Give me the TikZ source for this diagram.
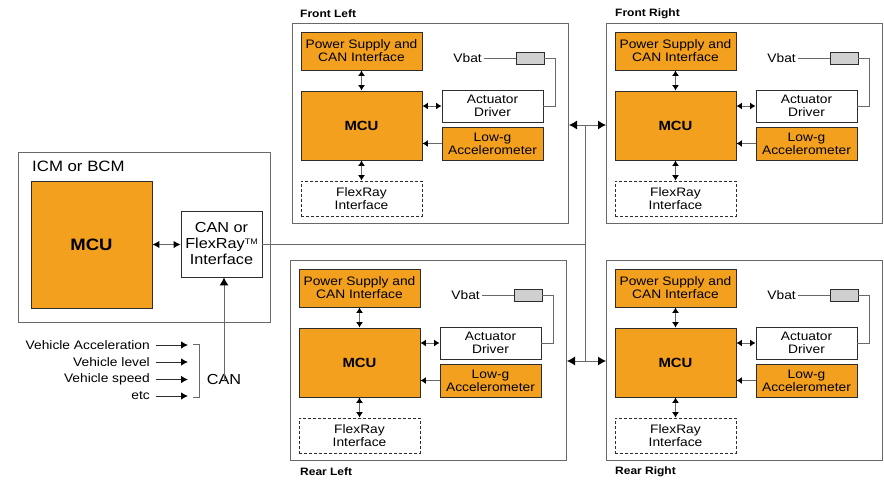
\documentclass[tikz,border=0pt]{standalone}
\usepackage{fontspec}
\setmainfont{Liberation Sans}[FakeStretch=1.12]
\usetikzlibrary{arrows.meta}
\definecolor{orng}{RGB}{243,160,30}
\definecolor{fuse}{RGB}{208,208,208}
\definecolor{ln}{RGB}{45,45,45}
\definecolor{frame}{RGB}{105,105,105}
\newcommand\bxf{\fontsize{12.3}{13}\selectfont}
\newcommand\mcuf{\fontsize{13.3}{14}\selectfont\bfseries}
\newcommand\lblf{\fontsize{10.7}{12}\selectfont\bfseries}
\tikzset{
  frm/.style={draw=frame, line width=1pt, inner sep=0pt, fill=white},
  obox/.style={draw=ln, fill=orng, line width=0.9pt, inner sep=0pt, align=center, font=\bxf},
  wbox/.style={draw=ln, fill=white, line width=0.9pt, inner sep=0pt, align=center, font=\bxf},
  dbox/.style={draw=ln, line width=0.8pt, dash pattern=on 3pt off 2pt, inner sep=0pt, align=center, font=\bxf},
  gbox/.style={draw=ln, fill=fuse, line width=0.9pt, inner sep=0pt},
  txt/.style={inner sep=2pt, font=\bxf},
  wire/.style={draw=frame, line width=1pt},
  sarr/.style={draw=frame, line width=1pt, -{Latex[length=5.5pt,width=7pt,color=black]}},
  darr/.style={draw=frame, line width=1pt, {Latex[length=5.5pt,width=7pt,color=black]}-{Latex[length=5.5pt,width=7pt,color=black]}},
  carr/.style={draw=frame, line width=1pt, {Latex[length=7pt,width=7.5pt,color=black]}-{Latex[length=7pt,width=7.5pt,color=black]}},
  barr/.style={draw=frame, line width=1pt, -{Latex[length=8pt,width=9pt,color=black]}},
  iarr/.style={draw=ln, line width=1pt, -{Latex[length=7pt,width=7.5pt,color=black]}},
}
\newcommand\wheelmod[3]{%
\begin{scope}[shift={(#1,#2)}]
  \node[frm, minimum width=276pt, minimum height=200pt, anchor=north west] (#3) at (0,0) {};
  \node[obox, minimum width=121pt, minimum height=38pt] (#3ps) at (69.5,28) {Power Supply and\\CAN Interface};
  \node[obox, minimum width=121pt, minimum height=69pt, font=\mcuf] (#3mcu) at (69.5,102.5) {MCU};
  \node[dbox, minimum width=121pt, minimum height=35pt] (#3fx) at (69.5,175.5) {FlexRay\\Interface};
  \node[wbox, minimum width=101pt, minimum height=32pt] (#3act) at (200.5,83) {Actuator\\Driver};
  \node[obox, minimum width=101pt, minimum height=33pt] (#3lg) at (200.5,120.5) {Low-g\\Accelerometer};
  \node[txt, anchor=east] (#3vb) at (192,35) {Vbat};
  \node[gbox, minimum width=28pt, minimum height=12pt] (#3fu) at (238,35) {};
  \draw[wire] (#3vb.east) -- (#3fu.west);
  \draw[wire] (#3fu.east) -- ++(11,0) |- (#3act.east);
  \draw[darr] (#3ps.south) -- (#3ps.south |- #3mcu.north);
  \draw[darr] (#3mcu.south) -- (#3mcu.south |- #3fx.north);
  \draw[darr] (#3act.west) -- (#3act.west -| #3mcu.east);
  \draw[sarr] (#3lg.west) -- (#3lg.west -| #3mcu.east);
\end{scope}}
\begin{document}
\begin{tikzpicture}[x=1pt, y=-1pt]
\useasboundingbox[fill=white] (0,0) rectangle (884,482);
% wheel modules
\wheelmod{292}{23}{fl}
\wheelmod{606}{23}{fr}
\wheelmod{290}{260}{rl}
\wheelmod{606}{260}{rr}
\node[anchor=west, inner sep=0pt, font=\lblf] (tfl) at (300,14) {Front Left};
\node[anchor=west, inner sep=0pt, font=\lblf] (tfr) at (615,14) {Front Right};
\node[anchor=west, inner sep=0pt, font=\lblf] (trl) at (300,472) {Rear Left};
\node[anchor=west, inner sep=0pt, font=\lblf] (trr) at (615,472) {Rear Right};
% ICM / BCM
\node[frm, minimum width=252pt, minimum height=170pt, anchor=north west] (icm) at (18,152) {};
\node[anchor=west, inner sep=0pt, font=\fontsize{15}{16}\selectfont] (icmt) at (32,166.5) {ICM or BCM};
\node[obox, minimum width=121pt, minimum height=127pt, font=\fontsize{16.5}{18}\selectfont\bfseries] (cmcu) at (91.5,244.5) {MCU};
\node[wbox, minimum width=81pt, minimum height=66pt, font=\fontsize{14.5}{16}\selectfont] (iface) at (221.5,244) {CAN or\\FlexRay\raisebox{0.55ex}{\fontsize{8}{8}\selectfont TM}\\Interface};
\draw[carr] (cmcu.east) -- (cmcu.east -| iface.west);
% bus
\coordinate (bt) at (585.5,125);
\coordinate (bb) at (585.5,361);
\draw[wire] (bt) -- (bb);
\draw[wire] (iface.east) -- (iface.east -| bt);
\draw[barr] (bt) -- (bt -| fl.east);
\draw[barr] (bt) -- (bt -| fr.west);
\draw[barr] (bb) -- (bb -| rl.east);
\draw[barr] (bb) -- (bb -| rr.west);
% inputs
\node[txt, anchor=east] (v1) at (152,345) {Vehicle Acceleration};
\node[txt, anchor=east] (v2) at (152,362) {Vehicle level};
\node[txt, anchor=east] (v3) at (152,379.5) {Vehicle speed};
\node[txt, anchor=east] (v4) at (152,396) {etc};
\draw[iarr] ([xshift=4pt]v1.east) -- ++(32,0);
\draw[iarr] ([xshift=4pt]v2.east) -- ++(32,0);
\draw[iarr] ([xshift=4pt]v3.east) -- ++(32,0);
\draw[iarr] ([xshift=4pt]v4.east) -- ++(32,0);
\coordinate (b1) at (193,344);
\coordinate (b2) at (193,397);
\draw[wire] (b1) -- ++(6,0) |- (b2);
\node[inner sep=0pt, font=\fontsize{14.5}{16}\selectfont] (can) at (224,380) {CAN};
\draw[barr] ([yshift=-6pt]can.north) -- (can.north |- iface.south);
\end{tikzpicture}
\end{document}
